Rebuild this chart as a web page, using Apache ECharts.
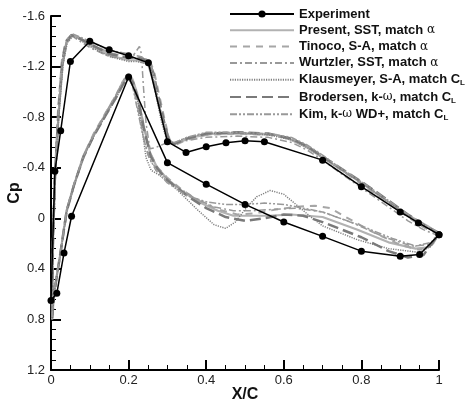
<!DOCTYPE html>
<html>
<head>
<meta charset="utf-8">
<script src="https://cdn.jsdelivr.net/npm/echarts@6/dist/echarts.min.js"></script>
<style>
  html, body { margin: 0; padding: 0; background: #fff; }
  #chart { width: 470px; height: 401px; }
</style>
</head>
<body>
<div id="chart"></div>
<script>
// Pressure coefficient distributions, each loop runs upper surface TE -> LE, then lower surface LE -> TE.
const xTickLabels = ['0', '0.2', '0.4', '0.6', '0.8', '1'];
const yTickLabels = ['-1.6', '-1.2', '-0.8', '-0.4', '0', '0.4', '0.8', '1.2'];

const experiment = [
  [1.0, 0.13], [0.947, 0.037], [0.9, -0.05], [0.8, -0.25], [0.7, -0.46], [0.55, -0.606], [0.5, -0.614],
  [0.451, -0.598], [0.4, -0.566], [0.348, -0.521], [0.3, -0.606], [0.251, -1.23], [0.2, -1.286],
  [0.15, -1.333], [0.1, -1.40], [0.05, -1.24], [0.025, -0.693], [0.01, -0.373], [0.0, 0.65],
  [0.015, 0.593], [0.0335, 0.275], [0.053, -0.016], [0.2, -1.117], [0.3, -0.44], [0.4, -0.27],
  [0.5, -0.11], [0.6, 0.029], [0.7, 0.143], [0.8, 0.26], [0.9, 0.30], [0.95, 0.286], [1.0, 0.13]
];

const presentSST = [
  [1.0, 0.12], [0.97, 0.06], [0.94, 0.01], [0.9, -0.06], [0.85, -0.17], [0.8, -0.28], [0.75, -0.38],
  [0.7, -0.48], [0.66, -0.56], [0.62, -0.62], [0.58, -0.66], [0.5, -0.67], [0.42, -0.67], [0.36, -0.64],
  [0.33, -0.6], [0.31, -0.59], [0.29, -0.75], [0.275, -0.93], [0.262, -1.1], [0.25, -1.22], [0.22, -1.25],
  [0.2, -1.25], [0.15, -1.29], [0.1, -1.37], [0.07, -1.43], [0.055, -1.45], [0.04, -1.39], [0.03, -1.22],
  [0.019, -0.8], [0.01, -0.3], [0.005, 0.2], [0.002, 0.6], [0.003, 0.8],
  [0.008, 0.6], [0.015, 0.45], [0.023, 0.3], [0.04, -0.06], [0.058, -0.25], [0.083, -0.49], [0.11, -0.66],
  [0.14, -0.82], [0.165, -0.95], [0.185, -1.08], [0.2, -1.14], [0.21, -1.1], [0.222, -0.99], [0.238, -0.74],
  [0.255, -0.52], [0.272, -0.41], [0.3, -0.31], [0.34, -0.21], [0.38, -0.13], [0.43, -0.06], [0.47, -0.02],
  [0.52, -0.02], [0.56, -0.02], [0.62, -0.03], [0.7, -0.01], [0.79, 0.09], [0.87, 0.19], [0.94, 0.24],
  [0.97, 0.23], [0.985, 0.2], [1.0, 0.12]
];

const tinocoSA = [
  [1.0, 0.13], [0.96, 0.07], [0.92, -0.01], [0.87, -0.12], [0.8, -0.27], [0.74, -0.4], [0.7, -0.49],
  [0.66, -0.57], [0.62, -0.63], [0.56, -0.66], [0.48, -0.67], [0.4, -0.66], [0.35, -0.62], [0.32, -0.58],
  [0.305, -0.62], [0.29, -0.82], [0.277, -1.0], [0.265, -1.17], [0.255, -1.24], [0.23, -1.27], [0.2, -1.27],
  [0.15, -1.31], [0.1, -1.38], [0.07, -1.43], [0.052, -1.45], [0.038, -1.4], [0.028, -1.25], [0.018, -0.85],
  [0.01, -0.35], [0.005, 0.15], [0.003, 0.78],
  [0.009, 0.58], [0.016, 0.44], [0.025, 0.27], [0.042, -0.08], [0.06, -0.27], [0.085, -0.5], [0.11, -0.67],
  [0.14, -0.83], [0.165, -0.96], [0.186, -1.08], [0.2, -1.13], [0.212, -1.08], [0.225, -0.95], [0.24, -0.72],
  [0.258, -0.5], [0.275, -0.4], [0.3, -0.32], [0.34, -0.22], [0.38, -0.14], [0.43, -0.07], [0.48, -0.03],
  [0.53, -0.04], [0.58, -0.07], [0.63, -0.09], [0.68, -0.1], [0.72, -0.08], [0.76, -0.01], [0.83, 0.11],
  [0.9, 0.21], [0.95, 0.25], [0.98, 0.21], [1.0, 0.13]
];

const wurtzlerSST = [
  [1.0, 0.14], [0.96, 0.09], [0.92, 0.02], [0.87, -0.09], [0.8, -0.24], [0.74, -0.37], [0.7, -0.46],
  [0.66, -0.54], [0.62, -0.6], [0.56, -0.64], [0.48, -0.65], [0.4, -0.64], [0.34, -0.61], [0.3, -0.6],
  [0.27, -0.56], [0.255, -0.55], [0.245, -0.75], [0.238, -1.05], [0.233, -1.3], [0.228, -1.36],
  [0.215, -1.3], [0.2, -1.26], [0.15, -1.28], [0.1, -1.35], [0.07, -1.41], [0.055, -1.44], [0.04, -1.38],
  [0.03, -1.2], [0.02, -0.82], [0.011, -0.3], [0.006, 0.2], [0.003, 0.76],
  [0.009, 0.57], [0.017, 0.42], [0.026, 0.25], [0.043, -0.08], [0.062, -0.28], [0.088, -0.51],
  [0.115, -0.68], [0.145, -0.84], [0.17, -0.98], [0.19, -1.09], [0.202, -1.11], [0.213, -1.02],
  [0.225, -0.85], [0.24, -0.62], [0.255, -0.46], [0.28, -0.36], [0.32, -0.26], [0.37, -0.16], [0.42, -0.09],
  [0.47, -0.06], [0.52, -0.06], [0.57, -0.07], [0.63, -0.08], [0.7, -0.05], [0.78, 0.04], [0.86, 0.15],
  [0.93, 0.22], [0.97, 0.21], [1.0, 0.14]
];

const klausmeyerSA = [
  [1.0, 0.12], [0.96, 0.06], [0.92, -0.02], [0.87, -0.13], [0.8, -0.28], [0.74, -0.4], [0.7, -0.48],
  [0.66, -0.56], [0.62, -0.62], [0.56, -0.66], [0.48, -0.68], [0.4, -0.67], [0.35, -0.64], [0.32, -0.6],
  [0.3, -0.6], [0.285, -0.76], [0.272, -0.95], [0.26, -1.15], [0.25, -1.22], [0.22, -1.24], [0.2, -1.24],
  [0.15, -1.28], [0.1, -1.36], [0.07, -1.42], [0.056, -1.44], [0.042, -1.39], [0.031, -1.22], [0.02, -0.8],
  [0.011, -0.3], [0.005, 0.2], [0.003, 0.8],
  [0.008, 0.6], [0.015, 0.45], [0.024, 0.29], [0.041, -0.07], [0.06, -0.27], [0.085, -0.5], [0.112, -0.66],
  [0.142, -0.82], [0.168, -0.95], [0.188, -1.07], [0.2, -1.1], [0.212, -1.04], [0.224, -0.92], [0.235, -0.7],
  [0.245, -0.48], [0.258, -0.38], [0.28, -0.34], [0.31, -0.27], [0.34, -0.18], [0.38, -0.06], [0.42, 0.05],
  [0.45, 0.08], [0.475, 0.03], [0.5, -0.07], [0.53, -0.17], [0.565, -0.22], [0.6, -0.19], [0.635, -0.1],
  [0.67, -0.01], [0.7, 0.06], [0.79, 0.17], [0.87, 0.24], [0.95, 0.27], [0.98, 0.22], [1.0, 0.12]
];

const brodersenKW = [
  [1.0, 0.12], [0.96, 0.05], [0.92, -0.03], [0.87, -0.14], [0.8, -0.29], [0.74, -0.41], [0.7, -0.49],
  [0.66, -0.57], [0.62, -0.63], [0.56, -0.67], [0.48, -0.68], [0.4, -0.67], [0.35, -0.63], [0.32, -0.59],
  [0.305, -0.6], [0.29, -0.78], [0.276, -0.97], [0.264, -1.15], [0.252, -1.24], [0.23, -1.27], [0.2, -1.27],
  [0.15, -1.3], [0.1, -1.38], [0.07, -1.43], [0.053, -1.45], [0.039, -1.4], [0.029, -1.24], [0.019, -0.84],
  [0.01, -0.32], [0.005, 0.18], [0.003, 0.79],
  [0.008, 0.6], [0.015, 0.46], [0.023, 0.3], [0.04, -0.05], [0.058, -0.25], [0.083, -0.48], [0.11, -0.65],
  [0.14, -0.81], [0.165, -0.94], [0.186, -1.06], [0.2, -1.12], [0.212, -1.07], [0.225, -0.93], [0.24, -0.7],
  [0.257, -0.49], [0.275, -0.39], [0.3, -0.3], [0.35, -0.18], [0.4, -0.08], [0.45, -0.01], [0.5, 0.02],
  [0.55, 0.0], [0.6, -0.03], [0.65, -0.02], [0.7, 0.03], [0.8, 0.15], [0.87, 0.26], [0.92, 0.31],
  [0.96, 0.29], [1.0, 0.12]
];

const kimKWWD = [
  [1.0, 0.11], [0.96, 0.05], [0.92, -0.03], [0.87, -0.14], [0.8, -0.29], [0.74, -0.41], [0.7, -0.5],
  [0.66, -0.58], [0.62, -0.64], [0.56, -0.67], [0.48, -0.68], [0.4, -0.68], [0.35, -0.64], [0.32, -0.6],
  [0.3, -0.61], [0.286, -0.8], [0.273, -1.0], [0.262, -1.17], [0.252, -1.25], [0.23, -1.28], [0.2, -1.3],
  [0.15, -1.33], [0.1, -1.4], [0.07, -1.44], [0.054, -1.46], [0.04, -1.41], [0.03, -1.25], [0.019, -0.85],
  [0.01, -0.33], [0.005, 0.2], [0.003, 0.78],
  [0.008, 0.58], [0.015, 0.44], [0.024, 0.28], [0.041, -0.08], [0.06, -0.28], [0.085, -0.5], [0.112, -0.67],
  [0.142, -0.84], [0.168, -0.98], [0.188, -1.1], [0.2, -1.13], [0.21, -1.05], [0.22, -0.9], [0.235, -0.68],
  [0.25, -0.5], [0.27, -0.38], [0.3, -0.28], [0.35, -0.18], [0.4, -0.13], [0.45, -0.11], [0.5, -0.11],
  [0.55, -0.12], [0.6, -0.11], [0.65, -0.08], [0.7, -0.05], [0.8, 0.06], [0.88, 0.16], [0.94, 0.22],
  [0.98, 0.19], [1.0, 0.11]
];

const seriesNames = [
  'Experiment',
  'Present, SST, match α',
  'Tinoco, S-A, match α',
  'Wurtzler, SST, match α',
  'Klausmeyer, S-A, match CL',
  'Brodersen, k-ω, match CL',
  'Kim, k-ω WD+, match CL'
];

const X_MIN = 0, X_MAX = 1, X_STEP = 0.2;
const Y_MIN = -1.6, Y_MAX = 1.2, Y_STEP = 0.4;

const chart = echarts.init(document.getElementById('chart'), null, { renderer: 'canvas' });

function cfdSeries(name, data, color, width, dash) {
  return {
    name: name,
    type: 'line',
    data: data,
    symbol: 'none',
    silent: true,
    lineStyle: { color: color, width: width, type: dash },
    itemStyle: { color: color },
    z: 2
  };
}

const legendData = seriesNames.map(function (n, i) {
  return i === 0 ? { name: n } : { name: n, itemStyle: { opacity: 0 } };
});

chart.setOption({
  animation: false,
  backgroundColor: '#ffffff',
  grid: { left: 51, right: 31, top: 16, bottom: 31, containLabel: false, outerBoundsMode: 'none' },
  legend: {
    data: legendData,
    orient: 'vertical',
    left: 224,
    top: 2,
    itemWidth: 64,
    itemHeight: 9,
    itemGap: 2.3,
    selectedMode: false,
    textStyle: {
      fontFamily: 'Liberation Sans, Arial, sans-serif',
      fontWeight: 'bold',
      fontSize: 13,
      lineHeight: 14,
      color: '#111',
      rich: {
        g: { fontFamily: 'DejaVu Serif, serif', fontWeight: 'normal', fontSize: 12, lineHeight: 14, color: '#111' },
        s: { fontFamily: 'Liberation Sans, Arial, sans-serif', fontWeight: 'bold', fontSize: 8, lineHeight: 8, padding: [7, 0, 0, 0], color: '#111' }
      }
    },
    formatter: function (name) {
      return name.replace(/([αω])/g, '{g|$1}').replace(/match CL$/, 'match C{s|L}');
    }
  },
  xAxis: {
    type: 'value',
    min: X_MIN,
    max: X_MAX,
    interval: X_STEP,
    name: 'X/C',
    nameLocation: 'middle',
    nameGap: 17,
    nameMoveOverlap: false,
    nameTextStyle: { fontFamily: 'Liberation Sans, Arial, sans-serif', fontWeight: 'bold', fontSize: 16, color: '#111', verticalAlign: 'top' },
    axisLine: { show: true, onZero: false, lineStyle: { color: '#000', width: 2 } },
    axisTick: { show: true, inside: true, length: 10, lineStyle: { color: '#000', width: 2 } },
    minorTick: { show: true, splitNumber: 4, length: 5, lineStyle: { color: '#000', width: 1 } },
    splitLine: { show: false },
    axisLabel: {
      margin: 4,
      fontFamily: 'Liberation Sans, Arial, sans-serif',
      fontSize: 13,
      color: '#222',
      formatter: function (v) { return xTickLabels[Math.round((v - X_MIN) / X_STEP)]; }
    }
  },
  yAxis: {
    type: 'value',
    inverse: true,
    min: Y_MIN,
    max: Y_MAX,
    interval: Y_STEP,
    name: 'Cp',
    nameLocation: 'middle',
    nameGap: 28,
    nameMoveOverlap: false,
    nameTextStyle: { fontFamily: 'Liberation Sans, Arial, sans-serif', fontWeight: 'bold', fontSize: 16, color: '#111' },
    axisLine: { show: true, onZero: false, lineStyle: { color: '#000', width: 2 } },
    axisTick: { show: true, inside: true, length: 10, lineStyle: { color: '#000', width: 2 } },
    minorTick: { show: true, splitNumber: 5, length: 5, lineStyle: { color: '#000', width: 1 } },
    splitLine: { show: false },
    axisLabel: {
      margin: 6,
      fontFamily: 'Liberation Sans, Arial, sans-serif',
      fontSize: 13,
      color: '#222',
      formatter: function (v) { return yTickLabels[Math.round((v - Y_MIN) / Y_STEP)]; }
    }
  },
  series: [
    cfdSeries(seriesNames[1], presentSST, '#b2b2b2', 2.2, 'solid'),
    cfdSeries(seriesNames[2], tinocoSA, '#a6a6a6', 2, [7, 6]),
    cfdSeries(seriesNames[3], wurtzlerSST, '#999999', 1.5, [7, 3, 2, 3]),
    cfdSeries(seriesNames[4], klausmeyerSA, '#808080', 1.5, [1.2, 1.2]),
    cfdSeries(seriesNames[5], brodersenKW, '#7a7a7a', 2.5, [11, 5]),
    cfdSeries(seriesNames[6], kimKWWD, '#999999', 1.5, [7, 2, 2, 2, 2, 2]),
    {
      name: seriesNames[0],
      type: 'line',
      data: experiment,
      symbol: 'circle',
      symbolSize: 7,
      silent: true,
      lineStyle: { color: '#000', width: 1.5 },
      itemStyle: { color: '#000' },
      z: 3
    }
  ]
});
</script>
</body>
</html>
